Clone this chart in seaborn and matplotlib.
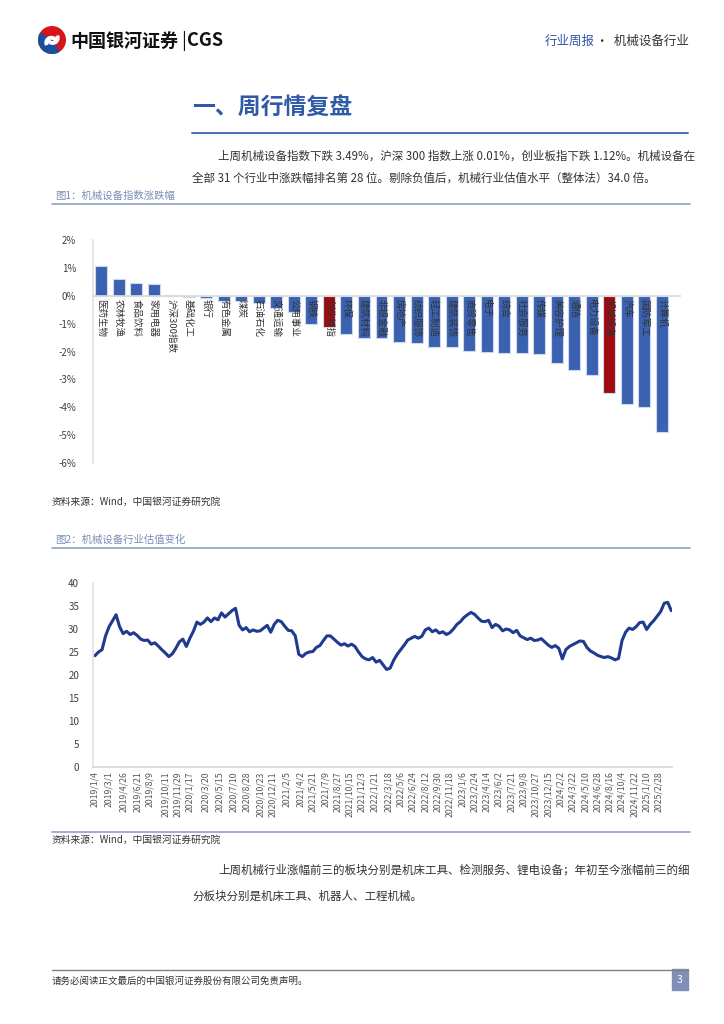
import numpy as np
import pandas as pd
import matplotlib
matplotlib.use("Agg")
import matplotlib.pyplot as plt
import matplotlib.patches as mpatches
import seaborn as sns

# 图1 数据：本周各行业涨跌幅（%）
industries = ["医药生物", "农林牧渔", "食品饮料", "家用电器", "沪深300指数", "基础化工",
              "银行", "有色金属", "煤炭", "石油石化", "交通运输", "公用事业", "钢铁",
              "创业板指", "环保", "建筑材料", "非银金融", "房地产", "纺织服饰", "轻工制造",
              "建筑装饰", "商贸零售", "电子", "综合", "社会服务", "传媒", "美容护理",
              "通信", "电力设备", "机械设备", "汽车", "国防军工", "计算机"]
weekly_change = [1.05, 0.6, 0.45, 0.42, 0.01, -0.03,
                 -0.08, -0.18, -0.18, -0.25, -0.45, -0.58, -1.02,
                 -1.12, -1.37, -1.5, -1.5, -1.65, -1.7, -1.83,
                 -1.83, -1.97, -2.0, -2.06, -2.06, -2.1, -2.4,
                 -2.65, -2.85, -3.49, -3.9, -4.0, -4.9]
highlight = ["沪深300指数", "创业板指", "机械设备"]

# 图2 数据：机械设备行业市盈率（双周取值）
pe_values = [24.2, 25.0, 25.5, 28.5, 30.5, 31.8, 33.1, 30.5, 29.0, 29.5,
             28.8, 29.2, 28.6, 27.8, 27.5, 27.6, 26.7, 27.0, 26.3, 25.5,
             24.8, 24.0, 24.6, 25.8, 27.2, 27.8, 26.2, 28.0, 29.5, 31.5,
             31.0, 31.5, 32.4, 31.6, 32.4, 32.0, 33.5, 32.6, 33.3, 34.0,
             34.5, 30.8, 29.8, 30.3, 29.4, 29.8, 29.5, 29.6, 30.2, 30.8,
             29.3, 31.0, 31.9, 31.6, 30.6, 29.7, 29.6, 28.5, 24.5, 24.0,
             24.7, 25.0, 25.1, 26.0, 26.4, 27.5, 28.5, 28.5, 27.8, 27.1,
             26.5, 26.8, 26.3, 26.7, 26.2, 25.0, 24.0, 23.5, 23.3, 23.8,
             22.8, 23.2, 22.2, 21.2, 21.5, 23.2, 24.5, 25.5, 26.5, 27.6,
             28.0, 28.4, 28.0, 28.4, 29.8, 30.2, 29.4, 29.8, 29.1, 29.4,
             28.8, 29.2, 30.0, 31.0, 31.6, 32.5, 33.1, 33.6, 33.2, 32.4,
             31.7, 31.6, 31.9, 30.3, 31.0, 30.6, 29.6, 30.0, 29.8, 29.2,
             29.7, 28.5, 28.1, 27.7, 28.0, 27.5, 27.6, 27.9, 27.2, 26.5,
             26.0, 26.4, 25.8, 23.5, 25.5, 26.2, 26.6, 27.0, 27.4, 27.3,
             26.0, 25.2, 24.8, 24.3, 24.0, 23.8, 24.0, 23.7, 23.3, 23.6,
             27.5, 29.3, 30.2, 29.9, 30.5, 31.4, 31.5, 29.9, 31.0, 31.8,
             32.8, 33.8, 35.6, 35.8, 34.0]
pe_dates = pd.date_range("2019-01-04", periods=len(pe_values), freq="14D")
date_ticks = ["2019/1/4", "2019/3/1", "2019/4/26", "2019/6/21", "2019/8/9", "2019/10/11",
              "2019/11/29", "2020/1/17", "2020/3/20", "2020/5/15", "2020/7/10", "2020/8/28",
              "2020/10/23", "2020/12/11", "2021/2/5", "2021/4/2", "2021/5/21", "2021/7/9",
              "2021/8/27", "2021/10/15", "2021/12/3", "2022/1/21", "2022/3/18", "2022/5/6",
              "2022/6/24", "2022/8/12", "2022/9/30", "2022/11/18", "2023/1/6", "2023/2/24",
              "2023/4/14", "2023/6/2", "2023/7/21", "2023/9/8", "2023/10/27", "2023/12/15",
              "2024/2/2", "2024/3/22", "2024/5/10", "2024/6/28", "2024/8/16", "2024/10/4",
              "2024/11/22", "2025/1/10", "2025/2/28"]

sns.set_theme(style="white")
plt.rcParams["font.family"] = ["Noto Sans CJK SC", "DejaVu Sans"]
plt.rcParams["axes.unicode_minus"] = False

W, H = 724, 1024
fig = plt.figure(figsize=(W / 100, H / 100), dpi=100)
fig.patch.set_facecolor("white")


def put(x, y, s, **kw):
    kw.setdefault("va", "center")
    kw.setdefault("ha", "left")
    fig.text(x / W, 1 - y / H, s, **kw)


def hline(x0, x1, y, color, lw=1.0):
    fig.add_artist(plt.Line2D([x0 / W, x1 / W], [1 - y / H, 1 - y / H],
                              color=color, lw=lw, transform=fig.transFigure))


def axes_px(x0, y0, x1, y1):
    return fig.add_axes([x0 / W, 1 - y1 / H, (x1 - x0) / W, (y1 - y0) / H])


# 页眉
logo = fig.add_axes([38 / W, 1 - 54 / H, 28 / W, 28 / H])
logo.set_xlim(-1, 1)
logo.set_ylim(-1, 1)
logo.set_aspect("equal")
logo.axis("off")
logo.add_patch(mpatches.Circle((0, 0), 0.95, color="#d7141a"))
logo.add_patch(mpatches.Wedge((0, 0), 0.95, 150, 300, color="#1d4f9c"))
logo.add_patch(mpatches.Wedge((0.05, 0.15), 0.45, 200, 20, width=0.18, color="white"))
logo.add_patch(mpatches.Wedge((-0.05, -0.2), 0.45, 20, 200, width=0.18, color="white"))
put(70, 41, "中国银河证券", fontsize=13, fontweight="bold", color="#111111")
put(181, 41, "|", fontsize=13, color="#111111")
put(187, 41, "CGS", fontsize=13, fontweight="bold", color="#111111")
put(545, 41, "行业周报", fontsize=9, color="#2f55a4")
put(596, 41, "·  机械设备行业", fontsize=9, color="#333333")

# 标题与正文
put(192, 108, "一、周行情复盘", fontsize=16.5, fontweight="bold", color="#2f5aa6")
hline(192, 688, 133, "#4a6fb5", 1.4)
body = "#333333"
put(218, 156, "上周机械设备指数下跌 3.49%，沪深 300 指数上涨 0.01%，创业板指下跌 1.12%。机械设备在",
    fontsize=8.3, color=body)
put(192, 178, "全部 31 个行业中涨跌幅排名第 28 位。剔除负值后，机械行业估值水平（整体法）34.0 倍。",
    fontsize=8.3, color=body)

cap = "#7b8db5"
put(55, 196, "图1：机械设备指数涨跌幅", fontsize=7.5, color=cap)
hline(52, 690, 204, "#8fa0c8", 1.2)

# 图1 柱状图
ax = axes_px(93, 240, 680, 463)
colors = {name: ("#a10b10" if name in highlight else "#3a62b0") for name in industries}
sns.barplot(x=industries, y=weekly_change, hue=industries, palette=colors, legend=False,
            saturation=1, width=0.68, edgecolor="#cdd9ee", linewidth=0.8, ax=ax)
ax.spines["bottom"].set_position(("data", 0))
for side in ["top", "right"]:
    ax.spines[side].set_visible(False)
ax.spines["bottom"].set_color("#d9d9d9")
ax.spines["left"].set_color("#e3e3e3")
ax.set_axisbelow(False)
ax.set_xlim(-0.46, len(industries) + 0.03)
ax.set_ylim(-6, 2)
ax.set_yticks(np.arange(-6, 3, 1))
ax.set_yticklabels([f"{v}%" for v in range(-6, 3)], fontsize=7, color="#404040")
ax.set_xticks(range(len(industries)))
ax.set_xticklabels(industries, rotation=-90, va="top", ha="center", fontsize=6.8, color="#333333")
ax.tick_params(axis="x", length=0, pad=2)
ax.tick_params(axis="y", length=0, pad=12)
ax.set_facecolor("none")

put(52, 502, "资料来源：Wind，中国银河证券研究院", fontsize=7, color="#333333", style="italic")
put(55, 540, "图2：机械设备行业估值变化", fontsize=7.5, color=cap)
hline(52, 690, 548, "#8fa0c8", 1.2)

# 图2 折线图
ax2 = axes_px(93, 583, 672, 767)
sns.lineplot(x=pe_dates, y=pe_values, color="#1f3a8f", linewidth=2.2, ax=ax2)
ax2.set_ylim(0, 40)
ax2.set_yticks(np.arange(0, 41, 5))
ax2.set_yticklabels([str(v) for v in range(0, 41, 5)], fontsize=7, color="#404040")
ax2.set_xlim(pd.Timestamp("2018-12-27"), pd.Timestamp("2025-04-21"))
ax2.set_xticks(pd.to_datetime(date_ticks))
ax2.set_xticklabels(date_ticks, rotation=90, fontsize=6.3, color="#595959")
for side in ["top", "right"]:
    ax2.spines[side].set_visible(False)
ax2.spines["bottom"].set_color("#d9d9d9")
ax2.spines["left"].set_color("#e3e3e3")
ax2.tick_params(axis="x", length=0, pad=3)
ax2.tick_params(axis="y", length=0, pad=10)
ax2.set_xlabel("")
ax2.set_ylabel("")

hline(52, 690, 832, "#8fa0c8", 1.2)
put(52, 840, "资料来源：Wind，中国银河证券研究院", fontsize=7, color="#333333", style="italic")
put(218, 870, "上周机械行业涨幅前三的板块分别是机床工具、检测服务、锂电设备；年初至今涨幅前三的细",
    fontsize=8.3, color=body)
put(192, 896, "分板块分别是机床工具、机器人、工程机械。", fontsize=8.3, color=body)

# 页脚
hline(52, 688, 970, "#808080", 1.0)
put(52, 981, "请务必阅读正文最后的中国银河证券股份有限公司免责声明。", fontsize=6.8, color="#333333")
fig.add_artist(mpatches.Rectangle((672 / W, 1 - 990 / H), 16 / W, 21 / H,
                                  transform=fig.transFigure, color="#7f8fb8"))
put(680, 980, "3", fontsize=7.5, color="white", ha="center")

fig.savefig("out.png", dpi=100)
